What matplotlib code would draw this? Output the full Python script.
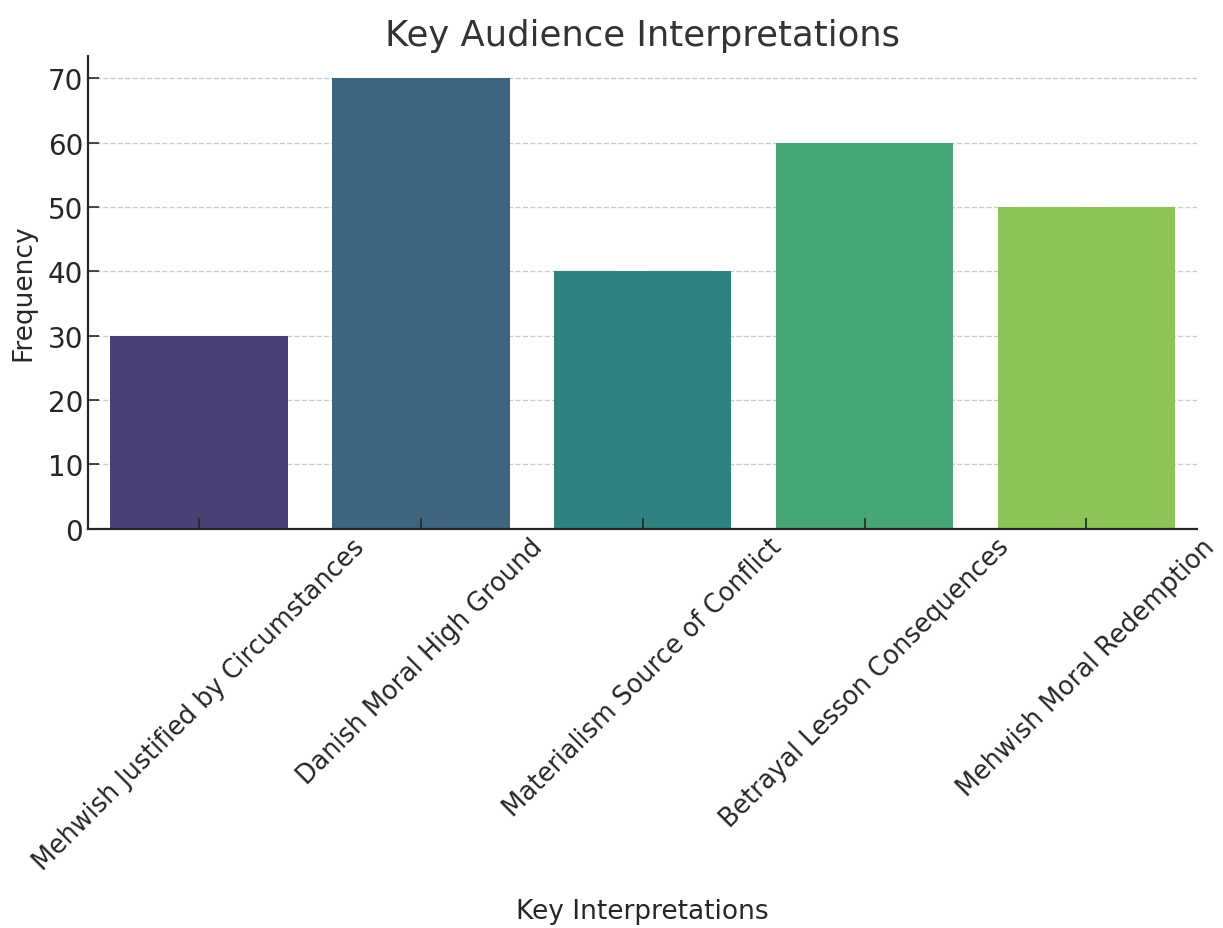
import matplotlib
matplotlib.use("Agg")
import matplotlib.pyplot as plt
import numpy as np

# data
categories = ["Mehwish Justified by Circumstances", "Danish Moral High Ground",
              "Materialism Source of Conflict", "Betrayal Lesson Consequences",
              "Mehwish Moral Redemption"]
frequency = [30, 70, 40, 60, 50]
bar_colors = ["#4b4076", "#3e6580", "#2e8280", "#46a675", "#8dc458"]
y_ticks = list(range(0, 71, 10))

fig, ax = plt.subplots(figsize=(12.23, 9.29), dpi=100)
fig.subplots_adjust(left=0.072, right=0.979, top=0.939, bottom=0.43)

x = np.arange(len(categories))
ax.bar(x, frequency, width=0.8, color=bar_colors, zorder=2)

ax.set_xlim(-0.5, len(categories) - 0.5)
ax.set_ylim(0, max(frequency) * 1.05)
ax.set_xticks(x)
ax.set_xticklabels(categories, rotation=45, ha="center", fontsize=18.4, color="#262626")
ax.set_yticks(y_ticks)
ax.tick_params(axis="y", labelsize=20, labelcolor="#262626")
ax.tick_params(direction="in", length=8, width=1.2, color="#262626")

# grid behind the bars, ticks stay on top
for yt in y_ticks[1:]:
    ax.axhline(yt, linestyle="--", color="#cccccc", linewidth=1, zorder=0)
ax.set_axisbelow(False)
for side in ["top", "right"]:
    ax.spines[side].set_visible(False)
for side in ["left", "bottom"]:
    ax.spines[side].set_linewidth(1.6)
    ax.spines[side].set_color("#262626")

ax.set_title("Key Audience Interpretations", fontsize=25.5, color="#333333", pad=8)
ax.set_xlabel("Key Interpretations", fontsize=19, color="#262626", labelpad=17)
ax.set_ylabel("Frequency", fontsize=19, color="#262626", labelpad=8)

fig.savefig("out.png", dpi=100)
